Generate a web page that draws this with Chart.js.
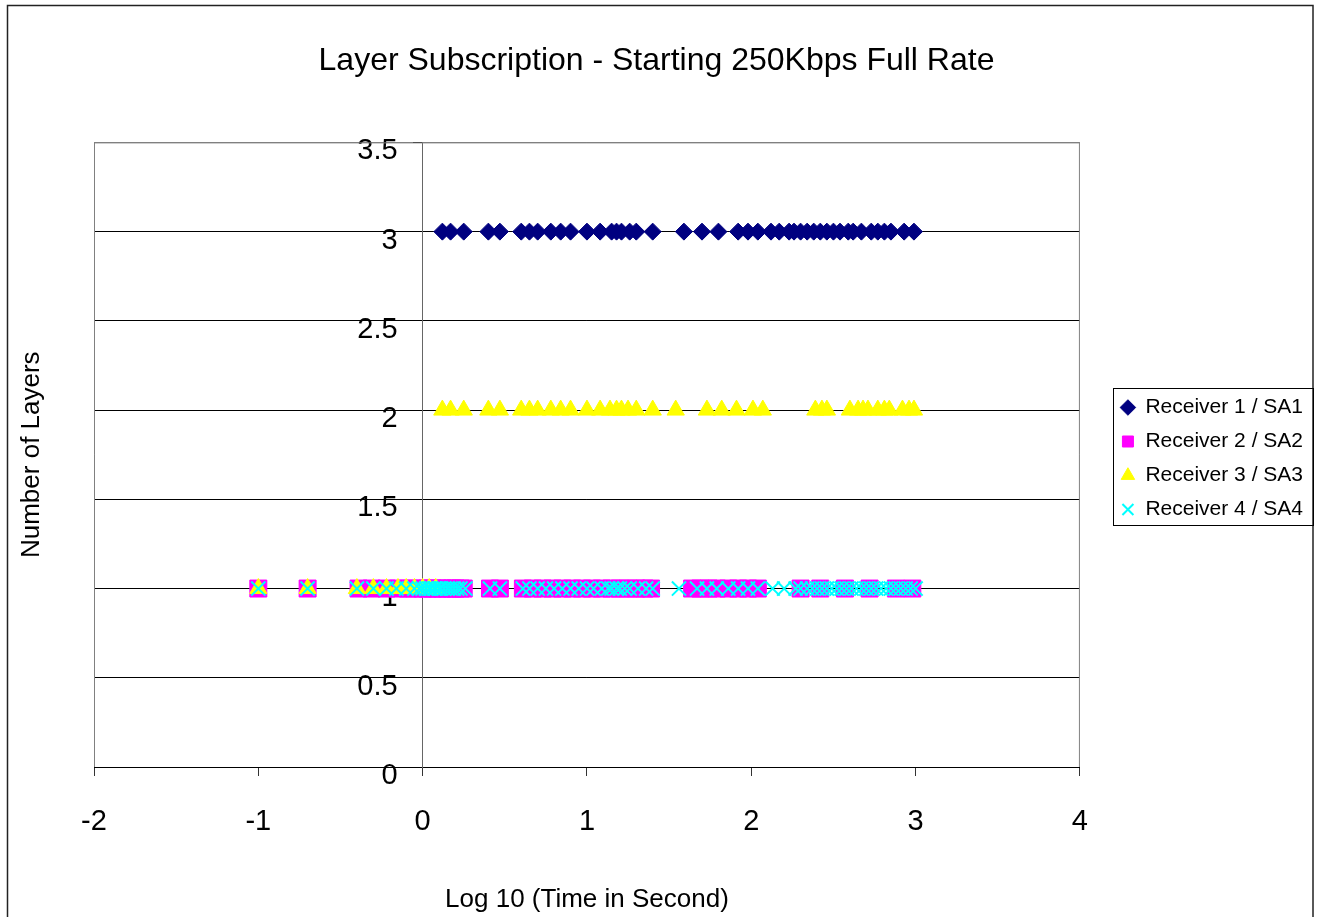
<!DOCTYPE html>
<html>
<head>
<meta charset="utf-8">
<script src="https://cdn.jsdelivr.net/npm/chart.js@4.4.1/dist/chart.umd.min.js"></script>
<style>
html, body { margin: 0; padding: 0; background: #fff; }
</style>
</head>
<body>
<canvas id="mycanvas" width="1321" height="917"></canvas>
<script>
// Log10(time in s) of each sample, grouped by the layer count it shows
var r1AtLayer3 = [0.12, 0.17, 0.25, 0.40, 0.47, 0.60, 0.65, 0.70, 0.78, 0.84, 0.90, 1.00, 1.08, 1.15, 1.18, 1.21, 1.26, 1.30, 1.40,
                  1.59, 1.70, 1.80, 1.92, 1.98, 2.04, 2.12, 2.17, 2.23, 2.26, 2.30, 2.34, 2.38, 2.42, 2.46, 2.50, 2.54, 2.59,
                  2.62, 2.67, 2.73, 2.77, 2.81, 2.85, 2.93, 2.99];
var r2AtLayer1 = [-1.00, -0.70, -0.39, -0.31, -0.22, -0.15, -0.09, -0.05, 0.00, 0.03, 0.06, 0.09, 0.12, 0.15, 0.18, 0.20, 0.23,
                  0.25, 0.41, 0.47, 0.61, 0.67, 0.73, 0.79, 0.85, 0.91, 0.97, 1.03, 1.09, 1.15, 1.20, 1.25, 1.30, 1.35, 1.39,
                  1.64, 1.69, 1.74, 1.79, 1.86, 1.92, 1.98, 2.04, 2.30, 2.42, 2.57, 2.72, 2.88, 2.98];
var r3AtLayer1 = [-1.00, -0.70, -0.40, -0.30, -0.22, -0.15, -0.10, -0.05, 0.00, 0.04, 0.08];
var r3AtLayer2 = [0.12, 0.17, 0.25, 0.40, 0.47, 0.60, 0.65, 0.70, 0.78, 0.84, 0.90, 1.00, 1.08, 1.14, 1.18, 1.21, 1.25, 1.30, 1.40,
                  1.54, 1.73, 1.82, 1.91, 2.01, 2.07, 2.39, 2.43, 2.46, 2.60, 2.65, 2.68, 2.71, 2.77, 2.81, 2.84, 2.92, 2.96, 2.99];
var r4AtLayer1 = [-1.00, -0.70, -0.40, -0.30, -0.22, -0.16, -0.10, -0.05, -0.02, 0.00, 0.02, 0.04, 0.05, 0.07, 0.08, 0.10, 0.11,
                  0.13, 0.15, 0.17, 0.19, 0.21, 0.23, 0.26, 0.41, 0.47, 0.61, 0.65, 0.70, 0.75, 0.80, 0.85, 0.90, 0.95, 1.00,
                  1.04, 1.09, 1.13, 1.15, 1.18, 1.20, 1.23, 1.26, 1.31, 1.36, 1.40, 1.56, 1.67, 1.73, 1.79, 1.86, 1.92, 1.98,
                  2.04, 2.13, 2.20, 2.27, 2.30, 2.34, 2.37, 2.40, 2.43, 2.46, 2.49, 2.52, 2.55, 2.58, 2.61, 2.64, 2.67, 2.70,
                  2.73, 2.76, 2.79, 2.82, 2.85, 2.88, 2.91, 2.94, 2.97, 3.00];

var seriesNames = ['Receiver 1 / SA1', 'Receiver 2 / SA2', 'Receiver 3 / SA3', 'Receiver 4 / SA4'];
var titleText = 'Layer Subscription - Starting 250Kbps Full Rate';
var xTitle = 'Log 10 (Time in Second)';
var yTitle = 'Number of Layers';

var FONT = "'Liberation Sans', Arial, sans-serif";

function pts(times, layer){
    var out = [];
    for (var i in times){
        out.push({x: times[i], y: layer});
    }
    return out;
}

var frame = {
    id: 'frame',
    beforeDatasetsDraw: function(chart){
        var a = chart.chartArea, ctx = chart.ctx;
        ctx.save();
        ctx.strokeStyle = '#808080';
        ctx.lineWidth = 1;
        ctx.beginPath();
        ctx.moveTo(a.left + 0.5, a.bottom);
        ctx.lineTo(a.left + 0.5, a.top + 0.5);
        ctx.lineTo(a.right - 0.5, a.top + 0.5);
        ctx.lineTo(a.right - 0.5, a.bottom);
        ctx.stroke();
        ctx.restore();
    },
    afterDraw: function(chart){
        var ctx = chart.ctx;
        ctx.save();
        ctx.strokeStyle = '#222';
        ctx.lineWidth = 1.5;
        ctx.strokeRect(7.5, 5.5, 1305.5, 1000);
        // legend box
        var boxes = chart.legend.legendHitBoxes;
        if (boxes && boxes.length){
            var l = boxes[0].left - 8, r = 1313;
            var t = boxes[0].top - 9;
            var b = boxes[boxes.length - 1].top + boxes[boxes.length - 1].height + 5;
            ctx.strokeStyle = '#000';
            ctx.lineWidth = 1;
            ctx.strokeRect(Math.round(l) + 0.5, Math.round(t) + 0.5, Math.round(r - l), Math.round(b - t));
        }
        ctx.restore();
    }
};

var chartdata = {
    datasets: [
        {
            label: seriesNames[0],
            data: pts(r1AtLayer3, 3),
            pointStyle: 'rectRot',
            pointRadius: 8.5,
            backgroundColor: '#000080',
            borderColor: '#000080',
            borderWidth: 1,
            order: 4
        },
        {
            label: seriesNames[1],
            data: pts(r2AtLayer1, 1),
            pointStyle: 'rect',
            pointRadius: 12,
            backgroundColor: '#FF00FF',
            borderColor: '#FF00FF',
            borderWidth: 1,
            order: 3
        },
        {
            label: seriesNames[2],
            data: pts(r3AtLayer1, 1).concat(pts(r3AtLayer2, 2)),
            pointStyle: 'triangle',
            pointRadius: 10,
            backgroundColor: '#FFFF00',
            borderColor: '#FFFF00',
            borderWidth: 1,
            order: 2
        },
        {
            label: seriesNames[3],
            data: pts(r4AtLayer1, 1),
            pointStyle: 'crossRot',
            pointRadius: 10,
            backgroundColor: '#00FFFF',
            borderColor: '#00FFFF',
            borderWidth: 2,
            order: 1
        }
    ]
};

var ctx = document.getElementById('mycanvas');
var chart = new Chart(ctx, {
    type: 'scatter',
    data: chartdata,
    plugins: [frame],
    options: {
        responsive: false,
        animation: false,
        events: [],
        layout: { padding: { left: 0, right: 8, top: 0, bottom: 0 } },
        plugins: {
            title: {
                display: true,
                text: titleText,
                color: '#000',
                font: { family: FONT, size: 32, weight: 'normal' },
                padding: { top: 42, bottom: 62 }
            },
            legend: {
                position: 'right',
                align: 'center',
                maxWidth: 240,
                labels: {
                    usePointStyle: true,
                    boxWidth: 14,
                    boxHeight: 11,
                    padding: 13,
                    color: '#000',
                    font: { family: FONT, size: 21 },
                    sort: function(a, b){ return a.datasetIndex - b.datasetIndex; }
                }
            },
            tooltip: { enabled: false }
        },
        scales: {
            x: {
                type: 'linear',
                position: 'bottom',
                min: -2,
                max: 4,
                ticks: { stepSize: 1, color: '#000', font: { family: FONT, size: 29 }, padding: 29 },
                grid: { drawOnChartArea: false, drawTicks: true, tickLength: 9, color: '#333' },
                border: { color: '#000', width: 1 },
                title: { display: true, text: xTitle, color: '#000', font: { family: FONT, size: 26 }, padding: { top: 0, bottom: 2 } },
                afterFit: function(s){ s.height = 150; }
            },
            y: {
                type: 'linear',
                position: { x: 0 },
                min: 0,
                max: 3.5,
                ticks: { display: false, stepSize: 0.5 },
                grid: {
                    color: function(c){ return (c.tick && c.tick.value === 3.5) ? '#808080' : '#000'; },
                    tickColor: '#000',
                    tickLength: 9
                },
                border: { color: '#666' }
            },
            yLab: {
                type: 'linear',
                position: { x: -0.152 },
                min: 0,
                max: 3.5,
                z: 1,
                ticks: {
                    stepSize: 0.5,
                    color: '#000',
                    font: { family: FONT, size: 29 },
                    labelOffset: 9,
                    callback: function(v){ return '' + v; }
                },
                grid: { display: false },
                border: { display: false }
            },
            yTitle: {
                type: 'linear',
                position: 'left',
                ticks: { display: false },
                grid: { display: false },
                border: { display: false },
                title: { display: true, text: yTitle, color: '#000', font: { family: FONT, size: 26 }, padding: { top: 16, bottom: 0 } },
                afterFit: function(s){ s.width = 94; }
            },
            yPad: {
                type: 'linear',
                position: 'right',
                ticks: { display: false },
                grid: { display: false },
                border: { display: false },
                afterFit: function(s){ s.width = 28; }
            }
        }
    }
});
</script>
</body>
</html>
